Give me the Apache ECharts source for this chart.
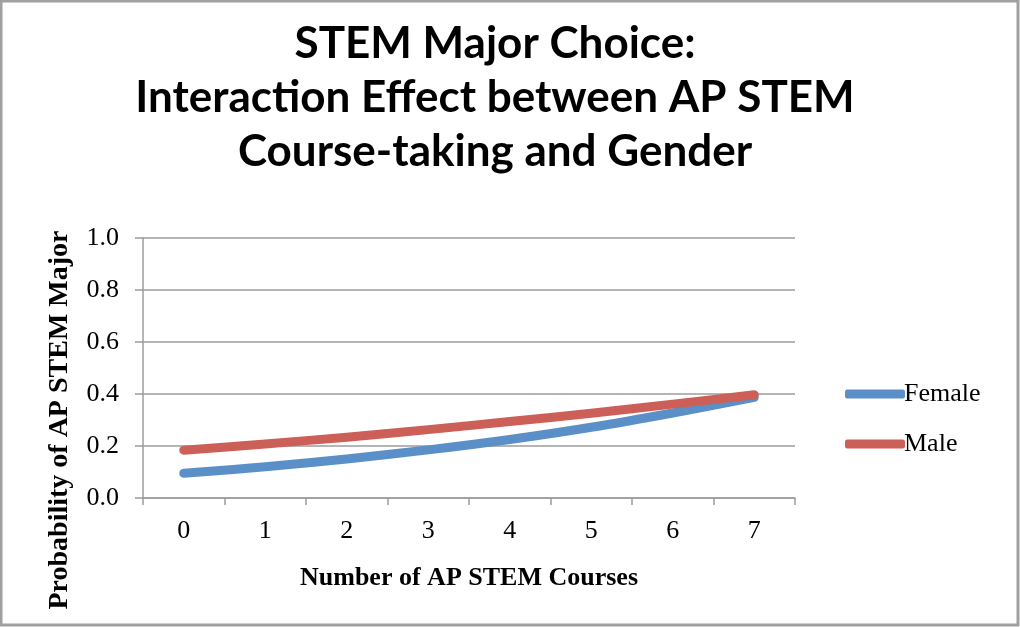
<!DOCTYPE html>
<html>
<head>
<meta charset="utf-8">
<script src="https://cdn.jsdelivr.net/npm/echarts@6/dist/echarts.min.js"></script>
<style>
html,body{margin:0;padding:0;background:#fff;}
#chart{width:1020px;height:627px;}
</style>
</head>
<body>
<div id="chart"></div>
<script>
const categories = ['0','1','2','3','4','5','6','7'];
const femaleValues = [0.095, 0.12, 0.15, 0.185, 0.225, 0.272, 0.327, 0.387];
const maleValues = [0.184, 0.208, 0.234, 0.263, 0.294, 0.326, 0.361, 0.397];
const yTicks = [0, 0.2, 0.4, 0.6, 0.8, 1.0];
const titleText = 'STEM Major Choice:\nInteraction Effect between AP STEM\nCourse-taking and Gender';
const xName = 'Number of AP STEM Courses';
const yName = 'Probability of AP STEM Major';

const chart = echarts.init(document.getElementById('chart'));
const serif = '"Liberation Serif", "DejaVu Serif", serif';
const axisGray = '#9c9c9c';
chart.setOption({
  backgroundColor: '#fff',
  animation: false,
  title: {
    text: titleText,
    left: 490,
    textAlign: 'center',
    top: 12,
    textStyle: {
      fontFamily: 'Lato, "Open Sans", sans-serif',
      fontWeight: 'bold',
      fontSize: 44,
      lineHeight: 54,
      color: '#000'
    }
  },
  legend: {
    orient: 'vertical',
    left: 840,
    top: 376,
    itemGap: 24,
    itemWidth: 60,
    itemHeight: 9,
    icon: 'roundRect',
    textStyle: { fontFamily: serif, fontSize: 26, color: '#000', padding: [0,0,0,-6] },
    data: ['Female', 'Male']
  },
  grid: { left: 143, right: 225, top: 238, bottom: 129 },
  xAxis: {
    type: 'category',
    data: categories,
    boundaryGap: true,
    name: xName,
    nameLocation: 'middle',
    nameGap: 67,
    nameTextStyle: { fontFamily: serif, fontWeight: 'bold', fontSize: 26, color: '#000' },
    axisLine: { lineStyle: { color: axisGray, width: 1.5 } },
    axisTick: { show: true, length: 7, interval: 0, lineStyle: { color: axisGray, width: 1.5 } },
    axisLabel: { fontFamily: serif, fontSize: 26, color: '#000', margin: 20 }
  },
  yAxis: {
    type: 'value',
    min: 0,
    max: 1,
    interval: 0.2,
    axisLine: { show: true, lineStyle: { color: axisGray, width: 1.5 } },
    axisTick: { show: true, length: 8, lineStyle: { color: axisGray, width: 1.5 } },
    axisLabel: {
      fontFamily: serif, fontSize: 26, color: '#000', margin: 24,
      formatter: v => yTicks.includes(Math.round(v*10)/10) ? v.toFixed(1) : ''
    },
    splitLine: { lineStyle: { color: axisGray, width: 1.5 } }
  },
  series: [
    {
      name: 'Female', type: 'line', data: femaleValues, smooth: 0.3,
      symbol: 'none', color: '#5a8fc7',
      lineStyle: { width: 9, color: '#5a8fc7', cap: 'round', join: 'round' }
    },
    {
      name: 'Male', type: 'line', data: maleValues, smooth: 0.3,
      symbol: 'none', color: '#cc5f58',
      lineStyle: { width: 9, color: '#cc5f58', cap: 'round', join: 'round' }
    }
  ],
  graphic: [
    {
      type: 'text',
      x: 60, y: 420,
      rotation: Math.PI/2,
      style: {
        text: yName,
        fontFamily: serif, fontWeight: 'bold', fontSize: 28, fill: '#000',
        align: 'center', verticalAlign: 'middle'
      }
    },
    {
      type: 'rect',
      shape: { x: 1, y: 1, width: 1017, height: 624 },
      style: { fill: 'none', stroke: '#a0a0a0', lineWidth: 3 },
      silent: true
    }
  ]
});
</script>
</body>
</html>
